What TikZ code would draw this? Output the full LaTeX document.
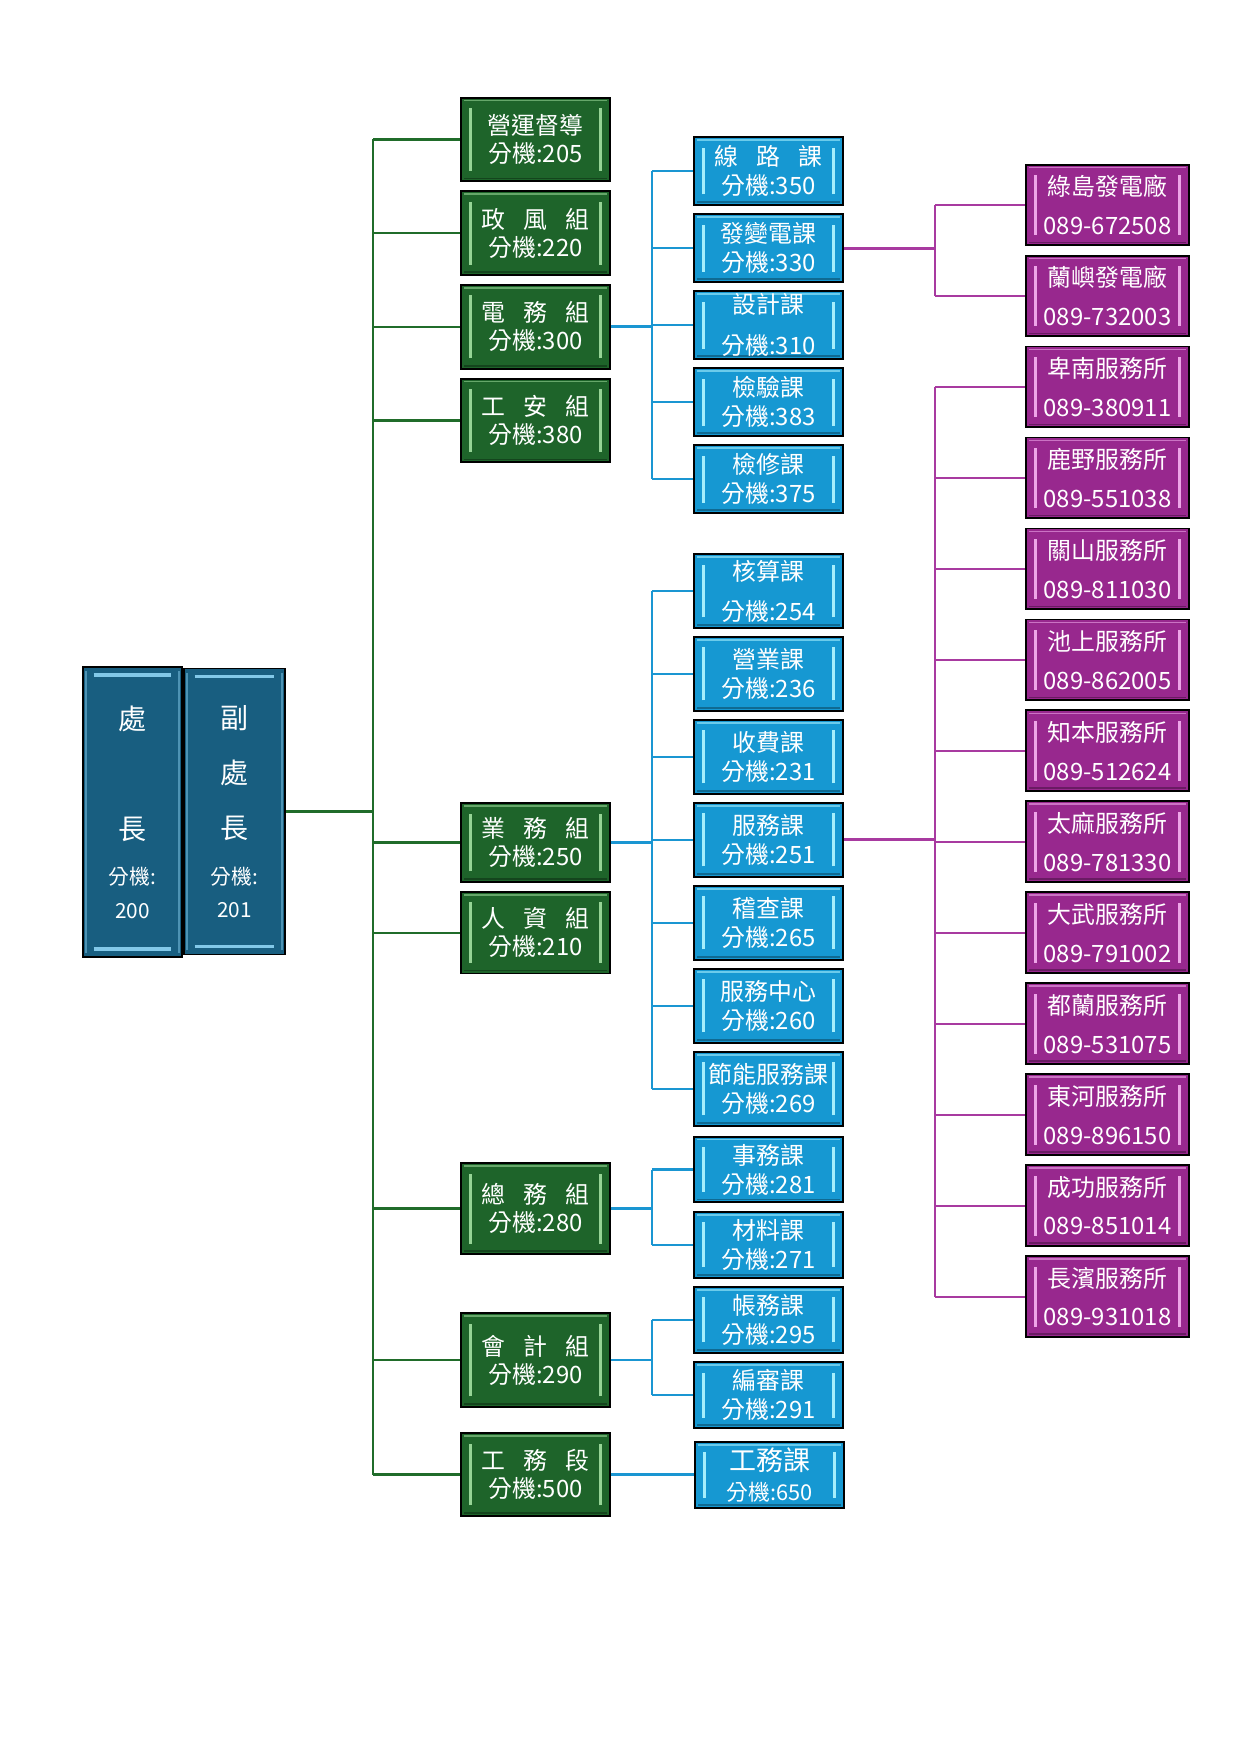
\documentclass[tikz,border=0pt]{standalone}
\usepackage{fontspec}
\setmainfont{Noto Sans CJK TC}
\usepackage{tikz}
\usetikzlibrary{positioning}
\definecolor{chiefblue}{RGB}{24,94,128}
\definecolor{chieflight}{RGB}{130,200,232}
\definecolor{grpgreen}{RGB}{30,100,42}
\definecolor{grplight}{RGB}{150,212,150}
\definecolor{secblue}{RGB}{22,152,210}
\definecolor{seclight}{RGB}{165,238,252}
\definecolor{stnpurple}{RGB}{152,40,142}
\definecolor{stnlight}{RGB}{238,165,232}
\definecolor{glinec}{RGB}{32,108,42}
\definecolor{blinec}{RGB}{26,150,210}
\definecolor{mlinec}{RGB}{168,58,160}
\tikzstyle{gline} = [glinec, line width=1pt]
\tikzstyle{bline} = [blinec, line width=1pt]
\tikzstyle{mline} = [mlinec, line width=1pt]
\tikzstyle{trunk} = [line width=1.4pt]
\newcommand{\cjkgap}{\hspace{0.75em}}

\begin{document}
\begin{tikzpicture}[
		x=0.016922cm, y=-0.016922cm,
		bevel/.style={
				path picture={
						\coordinate (bsw) at (path picture bounding box.south west);
						\coordinate (bse) at (path picture bounding box.south east);
						\coordinate (bnw) at (path picture bounding box.north west);
						\coordinate (bne) at (path picture bounding box.north east);
						\draw[#1, line width=1.2pt] ([shift={(4.5pt,5pt)}]bsw) -- ([shift={(4.5pt,-5pt)}]bnw);
						\draw[#1, line width=1.2pt] ([shift={(-4.5pt,5pt)}]bse) -- ([shift={(-4.5pt,-5pt)}]bne);
						\draw[#1, line width=0.8pt, opacity=0.6] ([shift={(1.5pt,-1.4pt)}]bnw) -- ([shift={(-1.5pt,-1.4pt)}]bne);
						\draw[black, line width=0.8pt, opacity=0.3] ([shift={(1.5pt,1.4pt)}]bsw) -- ([shift={(-1.5pt,1.4pt)}]bse);
					}
			},
		cbevel/.style={
				path picture={
						\coordinate (bsw) at (path picture bounding box.south west);
						\coordinate (bse) at (path picture bounding box.south east);
						\coordinate (bnw) at (path picture bounding box.north west);
						\coordinate (bne) at (path picture bounding box.north east);
						\draw[#1, line width=1.6pt] ([shift={(5pt,4pt)}]bsw) -- ([shift={(-5pt,4pt)}]bse);
						\draw[#1, line width=1.6pt] ([shift={(5pt,-4pt)}]bnw) -- ([shift={(-5pt,-4pt)}]bne);
						\draw[#1, line width=0.8pt, opacity=0.5] ([shift={(1.4pt,2pt)}]bsw) -- ([shift={(1.4pt,-2pt)}]bnw);
						\draw[#1, line width=0.8pt, opacity=0.5] ([shift={(-1.4pt,2pt)}]bse) -- ([shift={(-1.4pt,-2pt)}]bne);
					}
			},
		chief/.style={
				rectangle,
				draw=black,
				line width=0.9pt,
				fill=chiefblue,
				text=white,
				inner sep=0pt,
				align=center,
				minimum width=47.5pt,
				minimum height=140pt,
				font=\fontsize{13.5}{26.6}\selectfont,
				cbevel=chieflight,
			},
		grp/.style={
				rectangle,
				draw=black,
				line width=0.9pt,
				fill=grpgreen,
				text=white,
				inner sep=0pt,
				align=center,
				minimum width=71.5pt,
				minimum height=40.3pt,
				font=\fontsize{11.5}{13.5}\selectfont,
				bevel=grplight,
			},
		sec/.style={
				grp,
				fill=secblue,
				minimum height=32.6pt,
				font=\fontsize{11.5}{14}\selectfont,
				bevel=seclight,
			},
		stn/.style={
				grp,
				fill=stnpurple,
				minimum width=78.2pt,
				minimum height=38.9pt,
				font=\fontsize{11.5}{18.7}\selectfont,
				bevel=stnlight,
			}
	]
	\path[use as bounding box, fill=white] (0,0) rectangle (1241,1755);

	% heads
	\node[chief] (chu) at (132.5,812) {處\\[26.6pt]長\\[-4.8pt]{\fontsize{10}{12}\selectfont 分機:}\\[-10.6pt]{\fontsize{10}{12}\selectfont 200}};
	\node[chief, minimum width=48.5pt, minimum height=137.7pt] (fuchu) at (234.5,811.5) {副\\處\\長\\[-4.8pt]{\fontsize{10}{12}\selectfont 分機:}\\[-10.6pt]{\fontsize{10}{12}\selectfont 201}};

	% groups
	\node[grp] (yunying) at (535.5,139.5) {營運督導\\分機:205};
	\node[grp, below=3.9pt of yunying] (zhengfeng) {政\cjkgap 風\cjkgap 組\\分機:220};
	\node[grp, below=3.9pt of zhengfeng] (dianwu) {電\cjkgap 務\cjkgap 組\\分機:300};
	\node[grp, below=3.9pt of dianwu] (gongan) {工\cjkgap 安\cjkgap 組\\分機:380};
	\node[grp, minimum height=37.9pt] (yewu) at (535.5,842.5) {業\cjkgap 務\cjkgap 組\\分機:250};
	\node[grp, minimum height=39.3pt, below=3.9pt of yewu] (renzi) {人\cjkgap 資\cjkgap 組\\分機:210};
	\node[grp, minimum height=43.7pt] (zongwu) at (535.5,1208.5) {總\cjkgap 務\cjkgap 組\\分機:280};
	\node[grp, minimum height=45.1pt] (kuaiji) at (535.5,1360) {會\cjkgap 計\cjkgap 組\\分機:290};
	\node[grp, minimum height=39.8pt] (gongwuduan) at (535.5,1474.5) {工\cjkgap 務\cjkgap 段\\分機:500};

	% sections under 電務組
	\node[sec] (xianlu) at (768.5,171) {線\cjkgap 路\cjkgap 課\\分機:350};
	\node[sec, below=3.6pt of xianlu] (fabian) {發變電課\\分機:330};
	\node[sec, below=3.6pt of fabian] (sheji) {設計課\\[6pt]分機:310};
	\node[sec, below=3.6pt of sheji] (jianyan) {檢驗課\\分機:383};
	\node[sec, below=3.6pt of jianyan] (jianxiu) {檢修課\\分機:375};

	% sections under 業務組
	\node[sec, minimum height=35.5pt] (hesuan) at (768.5,591) {核算課\\[5.3pt]分機:254};
	\node[sec, minimum height=35.5pt, below=3.55pt of hesuan] (yingye) {營業課\\分機:236};
	\node[sec, minimum height=35.5pt, below=3.55pt of yingye] (shoufei) {收費課\\分機:231};
	\node[sec, minimum height=35.5pt, below=3.55pt of shoufei] (fuwu) {服務課\\分機:251};
	\node[sec, minimum height=35.5pt, below=3.55pt of fuwu] (jicha) {稽查課\\分機:265};
	\node[sec, minimum height=35.5pt, below=3.55pt of jicha] (fwzx) {服務中心\\分機:260};
	\node[sec, minimum height=35.5pt, below=3.55pt of fwzx] (jieneng) {節能服務課\\分機:269};

	% sections under 總務組, 會計組, 工務段
	\node[sec, minimum height=31.7pt] (shiwu) at (768.5,1169.5) {事務課\\分機:281};
	\node[sec, minimum height=31.7pt, below=3.6pt of shiwu] (cailiao) {材料課\\分機:271};
	\node[sec, minimum height=31.7pt, below=3.6pt of cailiao] (zhangwu) {帳務課\\分機:295};
	\node[sec, minimum height=31.7pt, below=3.6pt of zhangwu] (bianshen) {編審課\\分機:291};
	\node[sec, minimum height=31.7pt] (gongwuke) at (769.5,1475) {{\fontsize{13}{14}\selectfont 工務課}\\{\fontsize{10.5}{13}\selectfont 分機:650}};

	% power plants and service offices
	\node[stn] (lvdao) at (1107.5,205) {綠島發電廠\\089-672508};
	\node[stn, below=4pt of lvdao] (lanyu) {蘭嶼發電廠\\089-732003};
	\node[stn, below=4pt of lanyu] (beinan) {卑南服務所\\089-380911};
	\node[stn, below=4pt of beinan] (luye) {鹿野服務所\\089-551038};
	\node[stn, below=4pt of luye] (guanshan) {關山服務所\\089-811030};
	\node[stn, below=4pt of guanshan] (chishang) {池上服務所\\089-862005};
	\node[stn, below=4pt of chishang] (zhiben) {知本服務所\\089-512624};
	\node[stn, below=4pt of zhiben] (taima) {太麻服務所\\089-781330};
	\node[stn, below=4pt of taima] (dawu) {大武服務所\\089-791002};
	\node[stn, below=4pt of dawu] (dulan) {都蘭服務所\\089-531075};
	\node[stn, below=4pt of dulan] (donghe) {東河服務所\\089-896150};
	\node[stn, below=4pt of donghe] (chenggong) {成功服務所\\089-851014};
	\node[stn, below=4pt of chenggong] (changbin) {長濱服務所\\089-931018};

	% Connections
	\coordinate (gx) at (373,812);
	\coordinate (bx) at (652,0);
	\coordinate (mx) at (935,0);

	\draw[gline, trunk] (fuchu.east) -- (fuchu.east -| gx);
	\draw[gline, trunk] (gx |- yunying) -- (gx |- gongwuduan);
	\draw[gline] (gx |- yunying) -- (yunying.west)
		(gx |- zhengfeng) -- (zhengfeng.west)
		(gx |- dianwu) -- (dianwu.west)
		(gx |- gongan) -- (gongan.west)
		(gx |- yewu) -- (yewu.west)
		(gx |- renzi) -- (renzi.west)
		(gx |- zongwu) -- (zongwu.west)
		(gx |- kuaiji) -- (kuaiji.west)
		(gx |- gongwuduan) -- (gongwuduan.west);

	\draw[bline, trunk] (dianwu.east) -- (dianwu.east -| bx);
	\draw[bline, trunk] (bx |- xianlu) -- (bx |- jianxiu);
	\draw[bline] (bx |- xianlu) -- (xianlu.west)
		(bx |- fabian) -- (fabian.west)
		(bx |- sheji) -- (sheji.west)
		(bx |- jianyan) -- (jianyan.west)
		(bx |- jianxiu) -- (jianxiu.west);

	\draw[bline, trunk] (yewu.east) -- (yewu.east -| bx);
	\draw[bline, trunk] (bx |- hesuan) -- (bx |- jieneng);
	\draw[bline] (bx |- hesuan) -- (hesuan.west)
		(bx |- yingye) -- (yingye.west)
		(bx |- shoufei) -- (shoufei.west)
		(bx |- fuwu) -- (fuwu.west)
		(bx |- jicha) -- (jicha.west)
		(bx |- fwzx) -- (fwzx.west)
		(bx |- jieneng) -- (jieneng.west);

	\draw[bline, trunk] (zongwu.east) -- (zongwu.east -| bx);
	\draw[bline] (bx |- shiwu) -- (bx |- cailiao)
		(bx |- shiwu) -- (shiwu.west)
		(bx |- cailiao) -- (cailiao.west);
	\draw[bline, trunk] (kuaiji.east) -- (kuaiji.east -| bx);
	\draw[bline] (bx |- zhangwu) -- (bx |- bianshen)
		(bx |- zhangwu) -- (zhangwu.west)
		(bx |- bianshen) -- (bianshen.west);
	\draw[bline, trunk] (gongwuduan.east) -- (gongwuduan.east -| gongwuke.west);

	\draw[mline, trunk] (fabian.east) -- (fabian.east -| mx);
	\draw[mline] (mx |- lvdao) -- (mx |- lanyu)
		(mx |- lvdao) -- (lvdao.west)
		(mx |- lanyu) -- (lanyu.west);
	\draw[mline, trunk] (fuwu.east) -- (fuwu.east -| mx);
	\draw[mline] (mx |- beinan) -- (mx |- changbin)
		(mx |- beinan) -- (beinan.west)
		(mx |- luye) -- (luye.west)
		(mx |- guanshan) -- (guanshan.west)
		(mx |- chishang) -- (chishang.west)
		(mx |- zhiben) -- (zhiben.west)
		(mx |- taima) -- (taima.west)
		(mx |- dawu) -- (dawu.west)
		(mx |- dulan) -- (dulan.west)
		(mx |- donghe) -- (donghe.west)
		(mx |- chenggong) -- (chenggong.west)
		(mx |- changbin) -- (changbin.west);
\end{tikzpicture}
\end{document}
